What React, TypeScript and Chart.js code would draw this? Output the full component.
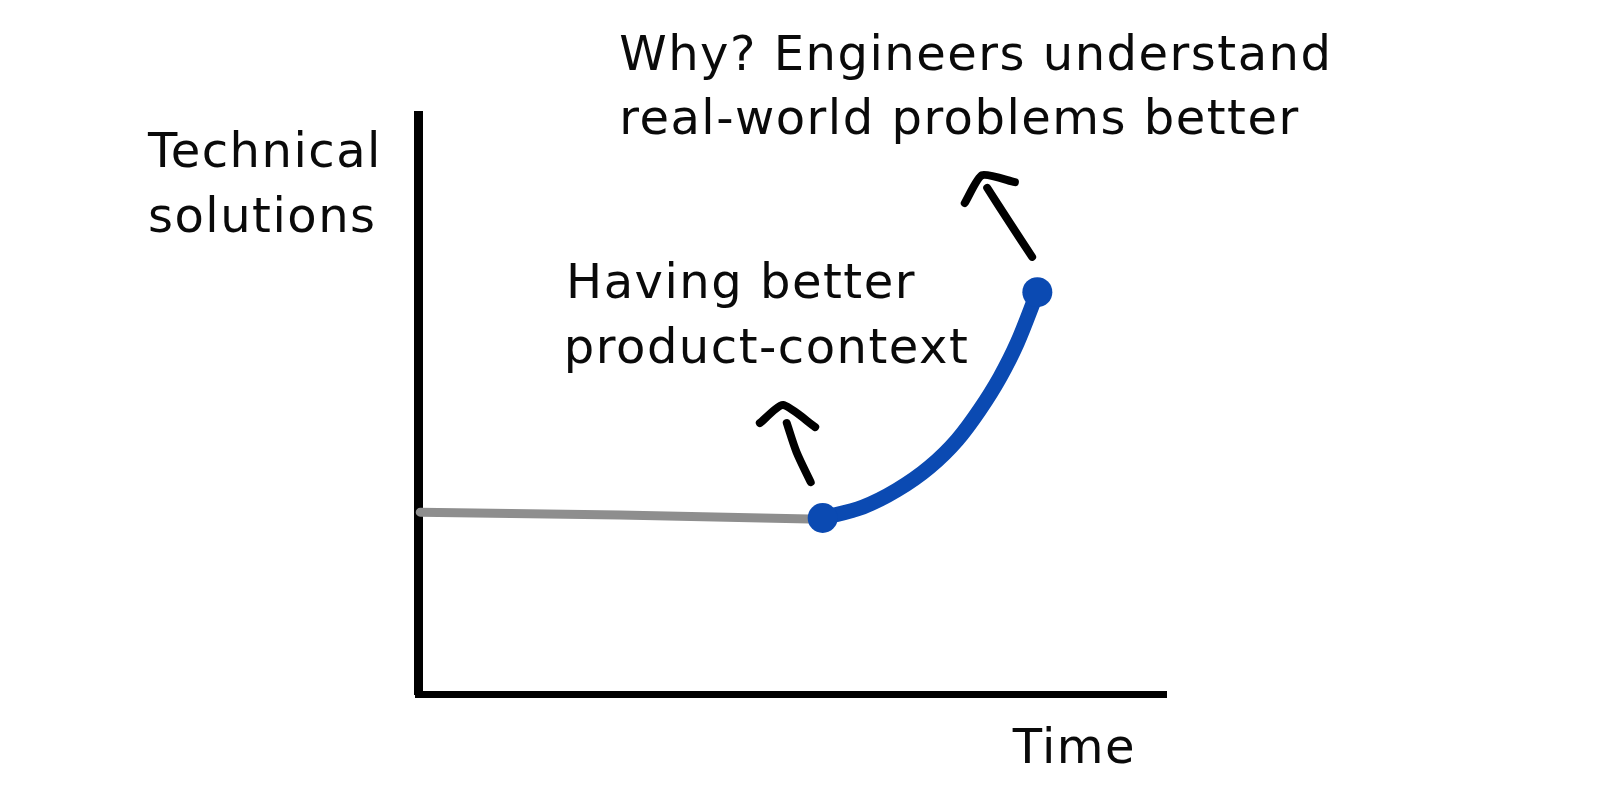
import React, { useEffect, useRef } from "react";
import { Chart, registerables } from "chart.js";

Chart.register(...registerables);

// Baseline (before product context) – grey segment
const grayX = [0.3, 27, 53.9];
const grayY = [31.4, 30.9, 30.2];

// Growth after product context – blue curve
const blueX = [54.1, 59.5, 64.0, 68.4, 72.1, 75.1, 77.8, 80.1, 82.8];
const blueY = [30.4, 32.3, 35.2, 39.2, 43.9, 49.1, 54.7, 60.6, 69.4];

// Annotation arrows (stem + head)
const arrow1StemX = [52.5, 50.6, 49.3];
const arrow1StemY = [36.6, 41.8, 46.8];
const arrow1HeadX = [45.7, 48.8, 53.1];
const arrow1HeadY = [46.8, 49.9, 46.1];
const arrow2StemX = [82.1, 79.0, 76.1];
const arrow2StemY = [75.5, 81.6, 87.4];
const arrow2HeadX = [73.1, 75.4, 79.8];
const arrow2HeadY = [84.8, 89.6, 88.4];

// Text labels (in data coordinates, left aligned)
const labelText = [
  "Technical",
  "solutions",
  "Why? Engineers understand",
  "real-world problems better",
  "Having better",
  "product-context",
  "Time",
];
const labelX = [-36.1, -36.1, 26.9, 26.9, 19.8, 19.5, 79.5];
const labelY = [93.1, 82.0, 110.0, 98.8, 70.6, 59.4, -9.7];

const BLUE = "#0b4ab2";
const GRAY = "#8e8e8e";
const INK = "#0a0a0a";

const pts = (xs: number[], ys: number[]) => xs.map((x, i) => ({ x, y: ys[i] }));

const labelsPlugin = {
  id: "sketchLabels",
  afterDraw(chart: any) {
    const { ctx, scales } = chart;
    ctx.save();
    ctx.fillStyle = INK;
    ctx.font = '48px "DejaVu Sans"';
    (ctx as any).letterSpacing = "1.5px";
    ctx.textAlign = "left";
    ctx.textBaseline = "middle";
    labelText.forEach((t, i) => {
      ctx.fillText(t, scales.x.getPixelForValue(labelX[i]), scales.y.getPixelForValue(labelY[i]));
    });
    ctx.restore();
  },
};

export default function App() {
  const ref = useRef<HTMLCanvasElement | null>(null);

  useEffect(() => {
    if (!ref.current) return;
    const lineStyle = (color: string, width: number) => ({
      borderColor: color,
      backgroundColor: color,
      borderWidth: width,
      pointRadius: 0,
      borderCapStyle: "round" as const,
      borderJoinStyle: "round" as const,
      fill: false,
      clip: false as any,
    });
    const chart = new Chart(ref.current, {
      type: "line",
      data: {
        datasets: [
          {
            ...lineStyle(BLUE, 15),
            data: pts(blueX, blueY),
            cubicInterpolationMode: "monotone",
            pointRadius: blueX.map((_, i) => (i === 0 || i === blueX.length - 1 ? 15 : 0)),
            pointBackgroundColor: BLUE,
            pointBorderWidth: 0,
          },
          { ...lineStyle(GRAY, 9), data: pts(grayX, grayY) },
          { ...lineStyle("#000", 8), data: pts(arrow1StemX, arrow1StemY), tension: 0.3 },
          { ...lineStyle("#000", 8), data: pts(arrow1HeadX, arrow1HeadY), tension: 0.2 },
          { ...lineStyle("#000", 8), data: pts(arrow2StemX, arrow2StemY), tension: 0.3 },
          { ...lineStyle("#000", 8), data: pts(arrow2HeadX, arrow2HeadY), tension: 0.2 },
        ] as any,
      },
      options: {
        animation: false,
        responsive: false,
        layout: { padding: { left: 418, right: 434, top: 115, bottom: 114 } },
        plugins: { legend: { display: false }, tooltip: { enabled: false } },
        scales: {
          x: {
            type: "linear",
            min: 0,
            max: 100,
            grid: { display: false, drawTicks: false },
            ticks: { display: false },
            border: { display: true, color: "#000", width: 7 },
          },
          y: {
            type: "linear",
            min: 0,
            max: 100,
            grid: { display: false, drawTicks: false },
            ticks: { display: false },
            border: { display: true, color: "#000", width: 9 },
          },
        },
      },
      plugins: [labelsPlugin],
    });
    return () => chart.destroy();
  }, []);

  return (
    <div style={{ position: "absolute", left: 0, top: 0, width: 1600, height: 808, background: "#fff" }}>
      <canvas ref={ref} width={1600} height={808} />
    </div>
  );
}
